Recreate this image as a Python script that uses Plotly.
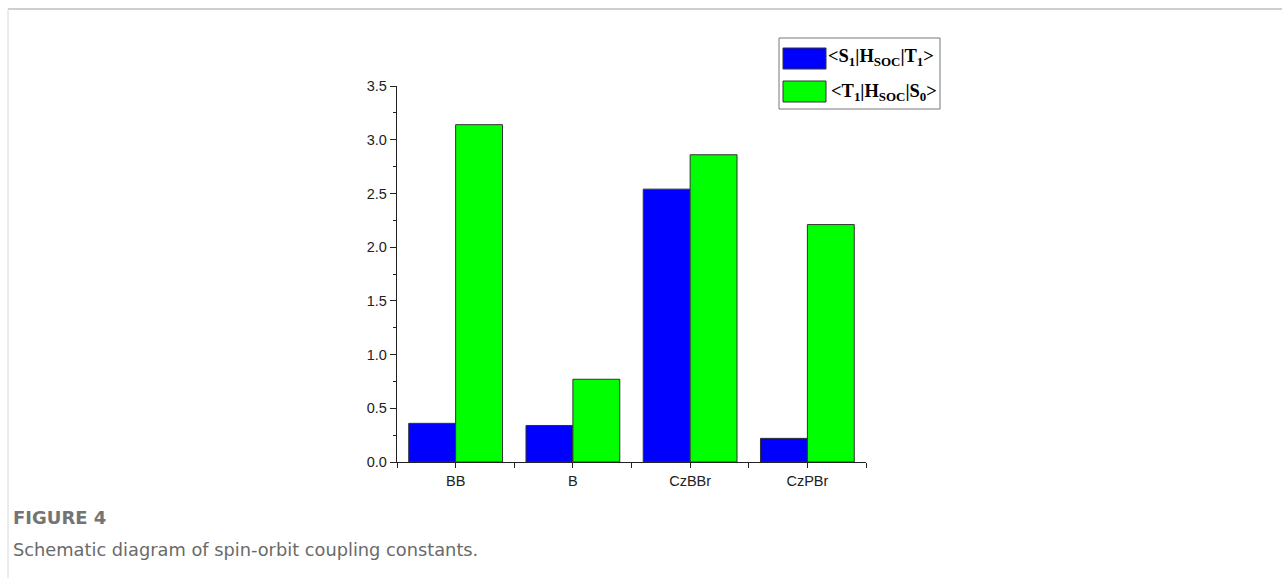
import plotly.graph_objects as go

categories = ["BB", "B", "CzBBr", "CzPBr"]
s1_t1 = [0.36, 0.34, 2.54, 0.22]
t1_s0 = [3.14, 0.77, 2.86, 2.21]
series_names = [
    "<b>&lt;S<sub>1</sub>|H<sub>SOC</sub>|T<sub>1</sub>&gt;</b>",
    "<b>&lt;T<sub>1</sub>|H<sub>SOC</sub>|S<sub>0</sub>&gt;</b>",
]
y_ticks = [0.0, 0.5, 1.0, 1.5, 2.0, 2.5, 3.0, 3.5]

BLUE = "#0000FF"
GREEN = "#00FF00"
EDGE = "#333333"

W, H = 1282, 578
L, R, T, B = 397, 866, 86, 462  # plot area pixels

def px(x):
    return (x - L) / (R - L)

def py(y):
    return (B - y) / (B - T)

xs = list(range(len(categories)))

fig = go.Figure()
fig.add_trace(go.Bar(x=xs, y=s1_t1, name=series_names[0], marker=dict(color=BLUE, line=dict(color=EDGE, width=1)), showlegend=False))
fig.add_trace(go.Bar(x=xs, y=t1_s0, name=series_names[1], marker=dict(color=GREEN, line=dict(color=EDGE, width=1)), showlegend=False))

axis_font = dict(family="Liberation Sans", size=14.5, color="#222")
fig.update_layout(
    width=W, height=H,
    margin=dict(l=L, r=W - R, t=T, b=H - B, pad=0),
    paper_bgcolor="white", plot_bgcolor="white",
    barmode="group", bargap=0.2, bargroupgap=0,
    xaxis=dict(range=[-0.5, len(categories) - 0.5], tickvals=xs, ticktext=categories,
               showline=True, linecolor="#222", linewidth=1.3, ticks="outside", ticklen=5,
               tickcolor="#222", tickwidth=1.2, showgrid=False, zeroline=False, tickfont=axis_font,
               minor=dict(tickvals=[i + 0.5 for i in xs[:-1]] + [-0.5, len(categories) - 0.5], ticks="outside", ticklen=5, tickcolor="#222", tickwidth=1.2)),
    yaxis=dict(range=[0, 3.5], tickvals=y_ticks, tickformat=".1f",
               showline=True, linecolor="#222", linewidth=1.3, ticks="outside", ticklen=6,
               tickcolor="#222", tickwidth=1.2, showgrid=False, zeroline=False, tickfont=axis_font,
               minor=dict(dtick=0.25, ticks="outside", ticklen=3, tickcolor="#222", tickwidth=1.2)),
    font=dict(family="Liberation Sans", size=14),
)

shapes = []
# legend box
shapes.append(dict(type="rect", xref="paper", yref="paper", x0=px(779), x1=px(940), y0=py(109), y1=py(38),
                   line=dict(color="#777", width=1), fillcolor="white", layer="above"))
for (y0, y1), col in zip([(48, 69), (81, 102)], [BLUE, GREEN]):
    shapes.append(dict(type="rect", xref="paper", yref="paper", x0=px(783), x1=px(826), y0=py(y1), y1=py(y0),
                       line=dict(color=EDGE, width=1), fillcolor=col, layer="above"))
# page frame
shapes.append(dict(type="line", xref="paper", yref="paper", x0=px(8), x1=px(1282), y0=py(9), y1=py(9),
                   line=dict(color="#cfcfcf", width=2), layer="above"))
shapes.append(dict(type="line", xref="paper", yref="paper", x0=px(8), x1=px(8), y0=py(9), y1=py(578),
                   line=dict(color="#d8d8d8", width=1), layer="above"))
fig.update_layout(shapes=shapes)

leg_font = dict(family="Liberation Serif", size=18.5, color="black")
fig.add_annotation(x=px(826), y=py(58), xref="paper", yref="paper", text=series_names[0],
                   showarrow=False, xanchor="left", yanchor="middle", font=leg_font)
fig.add_annotation(x=px(829), y=py(92), xref="paper", yref="paper", text=series_names[1],
                   showarrow=False, xanchor="left", yanchor="middle", font=leg_font)

fig.add_annotation(x=px(11), y=py(517), xref="paper", yref="paper", text="FIGURE 4",
                   showarrow=False, xanchor="left", yanchor="middle",
                   font=dict(family="DejaVu Sans", size=18, color="#747474", weight=600))
fig.add_annotation(x=px(11), y=py(549), xref="paper", yref="paper", text="Schematic diagram of spin-orbit coupling constants.",
                   showarrow=False, xanchor="left", yanchor="middle",
                   font=dict(family="DejaVu Sans", size=17.8, color="#6a6a6a"))

fig.write_html("out.html", config={"displayModeBar": False},
               post_script="document.body.style.margin='0';document.body.style.overflow='hidden';")
